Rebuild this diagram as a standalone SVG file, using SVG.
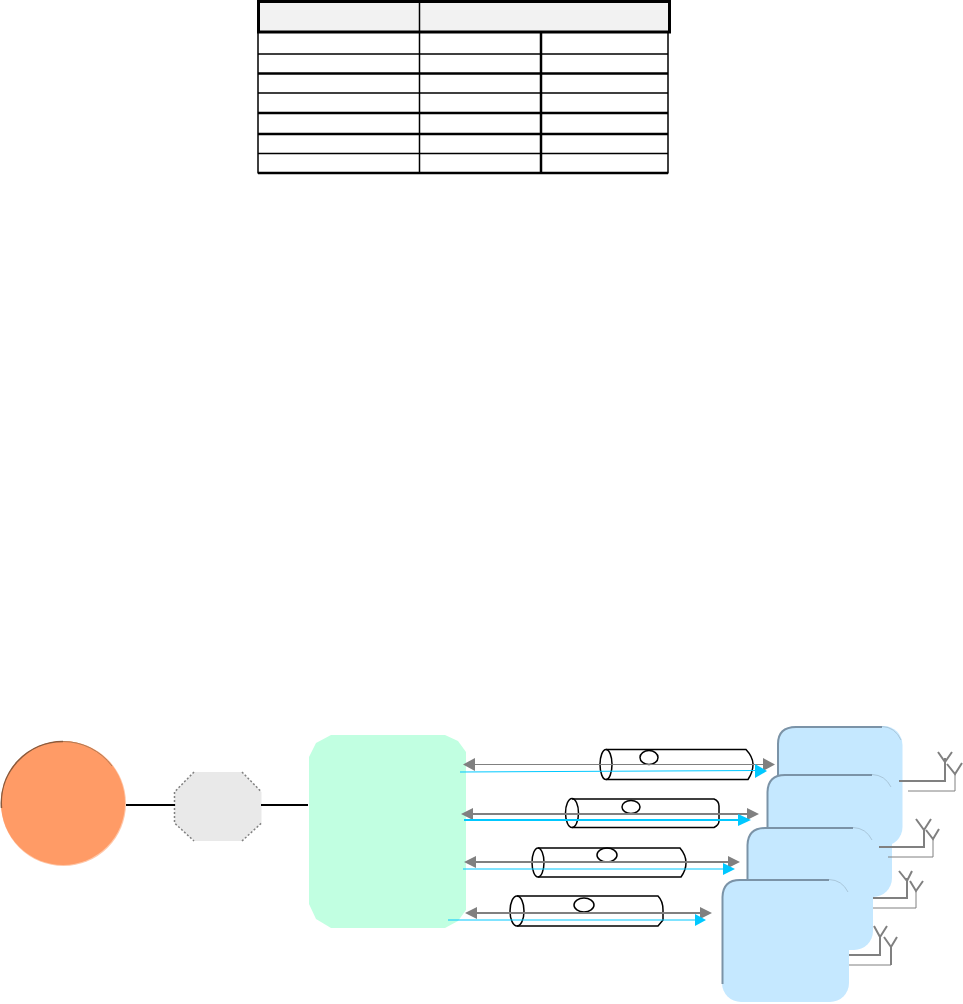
<svg xmlns="http://www.w3.org/2000/svg" width="963" height="1004" viewBox="0 0 963 1004">
<style>
.tn{stroke:#000;stroke-width:1.5;fill:none}
.tk{stroke:#000;stroke-width:2.5;fill:none}
.card{fill:#c5e8ff}
.edge{fill:none;stroke:#7b93a7;stroke-width:2}
.hl{fill:none;stroke:#a9c6da;stroke-width:1}
.cyl{fill:none;stroke:#000;stroke-width:1.500}
.g1{stroke:#808080;stroke-width:1;fill:none}
.g2{stroke:#808080;stroke-width:2;fill:none}
.b1{stroke:#00c8ff;stroke-width:1;fill:none}
.b2{stroke:#00c8ff;stroke-width:2;fill:none}
.gh{fill:#808080}
.bh{fill:#00c8ff}
</style>
<g id="table">
<path class="tn" d="M419.500 32V173M541 32V173"/>
<path class="tk" d="M541 32V173"/>
<path class="tn" d="M258 32V173.500M668 32V173.500M258 54H668M258 93H668M258 153.500H668"/>
<path class="tk" d="M258 73.500H668M258 113H668M258 134H668M258 173H668"/>
<rect x="258.500" y="1.500" width="411" height="30.500" fill="#f2f2f2" stroke="#000" stroke-width="3"/>
<path class="tn" d="M419.500 2V32"/>
</g>
<g id="node-circle">
<circle cx="63.500" cy="803.500" r="62.500" fill="#ffc7a8"/>
<circle cx="63" cy="803" r="62" fill="#ff9b66"/>
<path d="M1.500 808A61.500 61.500 0 0 1 63 741.500" fill="none" stroke="#8a5a3c" stroke-width="1.500"/>
<path d="M63 741.500A61.500 61.500 0 0 1 112 766" fill="none" stroke="#b07a55" stroke-width="1"/>
</g>
<g id="node-octagon">
<polygon points="194,772 242,772 261.500,792 261.500,823 242,841 194,841 174.500,823 174.500,792" fill="#e9e9e9"/>
<path d="M194 772L174.500 792V823L194 841M242 841L261.500 823M242 772L261.500 792" fill="none" stroke="#808080" stroke-width="1.500" stroke-dasharray="2 2"/>
</g>
<g id="node-hub">
<path d="M331 735H445L458 741L466 752V910L458 921L445 928H331L316 919L309 904V757L316 743Z" fill="#c1ffe1"/>
</g>
<g id="node-card-1">
<rect class="card" x="777.500" y="726" width="125" height="120" rx="19"/>
<path class="edge" d="M778 781V744Q778 727 796 727H882"/>
<path class="hl" d="M882 726.500Q895 727 901 740"/>
</g>
<g id="node-card-2">
<rect class="card" x="767" y="774" width="125" height="123" rx="19"/>
<path class="edge" d="M767.500 827V792Q768 775 785 775H872"/>
<path class="hl" d="M872 774.500Q885 775 891 787"/>
</g>
<g id="node-card-3">
<rect class="card" x="747" y="827" width="126" height="123" rx="19"/>
<path class="edge" d="M747.500 879V845Q748 828 765 828H853"/>
<path class="hl" d="M853 827.500Q866 828 872 840"/>
</g>
<g id="node-card-4">
<rect class="card" x="722" y="879" width="127" height="123" rx="19"/>
<path class="edge" d="M722.500 984V897Q723 880 740 880H829"/>
<path class="hl" d="M829 879.500Q842 880 848 892"/>
</g>
<g id="cable-1">
<path class="cyl" d="M606 749.500H746Q753 757 753 764.500Q753 772 748 779.500H606"/><ellipse class="cyl" cx="606" cy="764.500" rx="6" ry="15"/><ellipse class="cyl" cx="649" cy="757.500" rx="9" ry="7"/>
</g>
<g id="cable-2">
<path class="cyl" d="M572 799H714Q719 801 719 806V821Q719 825 714 827.500H572"/><ellipse class="cyl" cx="572" cy="813" rx="6.500" ry="14.500"/><ellipse class="cyl" cx="631" cy="807" rx="9" ry="6.500"/>
</g>
<g id="cable-3">
<path class="cyl" d="M538 848H680Q686 855 686 863Q686 870 681 877H538"/><ellipse class="cyl" cx="538" cy="862.500" rx="6" ry="14.500"/><ellipse class="cyl" cx="607" cy="855" rx="10" ry="7"/>
</g>
<g id="cable-4">
<path class="cyl" d="M517 896H658Q663 901 663 910V920L658 926H517"/><ellipse class="cyl" cx="517" cy="911" rx="7" ry="15"/><ellipse class="cyl" cx="584" cy="905" rx="10" ry="7"/>
</g>
<g id="connectors">
<path d="M126 805H175M261 805H308" stroke="#000" stroke-width="2" fill="none"/>
<path class="g1" d="M470 764.500H768"/>
<polygon class="gh" points="463,764.500 475,758 475,771"/><polygon class="gh" points="775,764.500 763,758 763,771"/>
<path class="b1" d="M460 772L758 770.500"/><polygon class="bh" points="767,771 755,764 755,778"/>
<path class="g2" d="M468 814H752"/>
<polygon class="gh" points="461,814 473,808 473,820"/><polygon class="gh" points="759,814 747,808 747,820"/>
<path class="b2" d="M464 820H742"/><polygon class="bh" points="751,820 738,814 738,826"/>
<path class="g2" d="M470 862H733"/>
<polygon class="gh" points="464,862 476,856 476,868"/><polygon class="gh" points="740,862 728,856 728,868"/>
<path class="b1" d="M463 869H726"/><polygon class="bh" points="735,869 723,863 723,875"/>
<path class="g2" d="M471 913H705"/>
<polygon class="gh" points="465,913 477,907 477,919"/><polygon class="gh" points="712,913 700,907 700,919"/>
<path class="b1" d="M448 920H698"/><polygon class="bh" points="706,920 695,914 695,926"/>
</g>
<g id="antennas">
<path class="g2" d="M899 781H945V758M938 752L945 762L952 752"/>
<path class="g1" d="M908 791H955V772"/><path class="g2" d="M947 764L955 774L962 763"/>
<path class="g2" d="M879 847H924V828M916 819L924 830L931 819"/>
<path class="g1" d="M888 857H933V838"/><path class="g2" d="M926 830L933 839L939 829"/>
<path class="g2" d="M873 898H907V878M899 871L907 881L912 871"/>
<path class="g1" d="M873 908H916V890"/><path class="g2" d="M910 881L916 891L923 881"/>
<path class="g2" d="M849 955H880V935M874 926L880 937L887 926"/>
<path class="g1" d="M849 965H891"/><path class="g2" d="M891 965V947M884 937L891 947L897 937"/>
</g>
</svg>
